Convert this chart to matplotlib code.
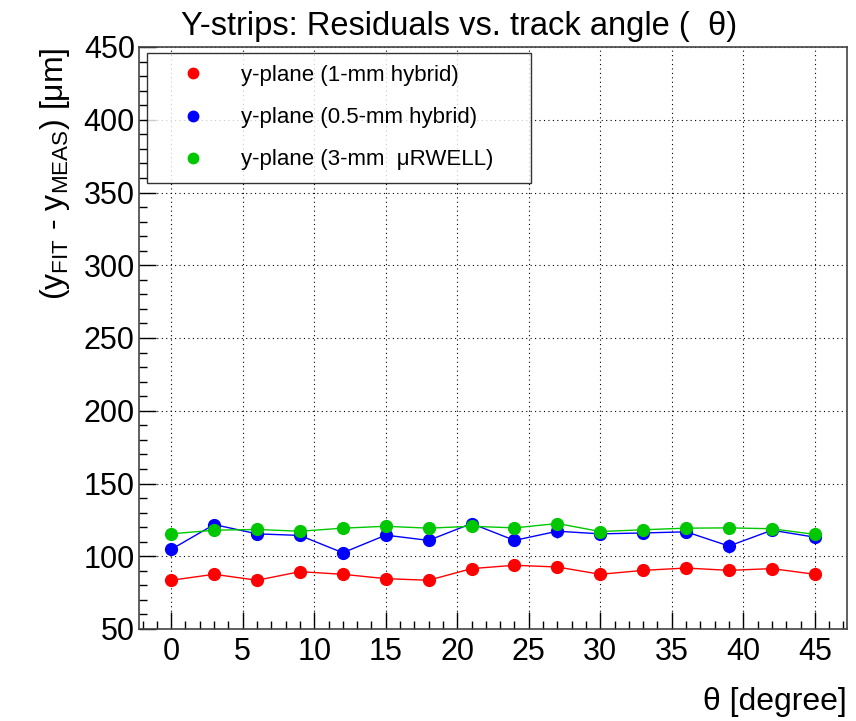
import matplotlib
matplotlib.use('Agg')
import matplotlib.pyplot as plt
from matplotlib.lines import Line2D
from matplotlib.ticker import MultipleLocator

plt.rcParams['font.family'] = ['Liberation Sans', 'DejaVu Sans']
plt.rcParams['mathtext.fontset'] = 'custom'
plt.rcParams['mathtext.rm'] = 'Liberation Sans'
plt.rcParams['mathtext.it'] = 'Liberation Sans'

# track angle theta [degree]
theta = [0, 3, 6, 9, 12, 15, 18, 21, 24, 27, 30, 33, 36, 39, 42, 45]

# residuals [um]
res_1mm = [83.5, 87.6, 83.5, 89.4, 87.6, 84.6, 83.5, 91.5,
           93.8, 92.6, 87.6, 90.3, 91.9, 90.3, 91.5, 87.6]
err_1mm = [1.5, 1.5, 1.5, 1.5, 1.5, 1.5, 1.5, 1.5,
           1.5, 1.5, 1.5, 1.5, 1.5, 1.5, 1.5, 1.5]

res_05mm = [104.7, 121.8, 115.4, 114.3, 102.4, 114.5, 110.9, 122.5,
            110.9, 117.2, 115.4, 116.0, 116.8, 107.0, 117.9, 113.1]
err_05mm = [2, 2, 2, 2, 2, 2, 2, 2,
            2, 5, 2, 2, 2, 5, 2, 2]

res_urwell = [115.4, 117.9, 118.4, 117.2, 119.3, 120.6, 119.3, 120.6,
              119.5, 122.5, 117.0, 118.2, 119.3, 119.5, 118.9, 115.0]
err_urwell = [1.5, 1.5, 1.5, 1.5, 1.5, 1.5, 1.5, 1.5,
              1.5, 1.5, 1.5, 1.5, 1.5, 1.5, 1.5, 1.5]

labels = ['y-plane (1-mm hybrid)', 'y-plane (0.5-mm hybrid)', 'y-plane (3-mm  \u03bcRWELL)']
colors = ['#ff0000', '#0000ff', '#00c800']

fig = plt.figure(figsize=(8.56, 7.21), dpi=100)
ax = fig.add_axes([139 / 856, 1 - 629 / 721, (847 - 139) / 856, (629 - 47) / 721])

series = [(res_1mm, err_1mm), (res_05mm, err_05mm), (res_urwell, err_urwell)]
handles = []
for (vals, errs), lab, col in zip(series, labels, colors):
    ax.plot(theta, vals, '-', color=col, lw=1.0, zorder=2)
    ax.errorbar(theta, vals, yerr=errs, fmt='o', color=col, ms=8.5, elinewidth=1,
                capsize=0, zorder=3)
    handles.append(Line2D([], [], marker='o', ls='none', color=col, ms=7.5, label=lab))

ax.set_xlim(-2.25, 47.25)
ax.set_ylim(50, 450)
ax.xaxis.set_major_locator(MultipleLocator(5))
ax.xaxis.set_minor_locator(MultipleLocator(1))
ax.yaxis.set_major_locator(MultipleLocator(50))
ax.yaxis.set_minor_locator(MultipleLocator(10))
ax.tick_params(which='both', direction='in', labelsize=22, width=1)
ax.tick_params(which='major', length=12, pad=6)
ax.tick_params(which='minor', length=6)
ax.tick_params(axis='y', pad=3)
ax.grid(True, which='major', linestyle=(0, (1, 3)), color='black', lw=0.8)
for s in ax.spines.values():
    s.set_linewidth(1.2)
    s.set_color('#444444')

ax.set_title('Y-strips: Residuals vs. track angle (  \u03b8)', fontsize=23.5, x=0.452, pad=9)
ax.set_xlabel('\u03b8 [degree]', fontsize=23, loc='right', labelpad=14)
ax.set_ylabel('(y$_{\\mathrm{FIT}}$ - y$_{\\mathrm{MEAS}}$) [\u03bcm]', fontsize=23,
              loc='top', labelpad=8)

leg = ax.legend(handles=handles, loc='upper left', mode='expand',
                bbox_to_anchor=(8 / 708, 1 - 6 / 582, 384 / 708, 0.0),
                fontsize=16, frameon=True, fancybox=False, edgecolor='black',
                handlelength=3.0, handletextpad=0.66, borderpad=0.55, labelspacing=0.95,
                borderaxespad=0)
leg.get_frame().set_linewidth(1.0)

fig.savefig('out.png', dpi=100)
